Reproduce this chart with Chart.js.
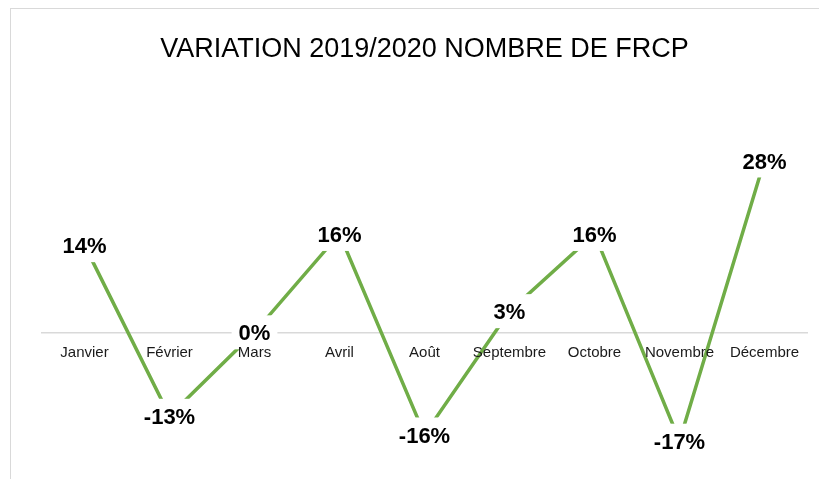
<!DOCTYPE html>
<html>
<head>
<meta charset="utf-8">
<script src="https://cdn.jsdelivr.net/npm/chart.js@4"></script>
<style>
  html, body { margin: 0; padding: 0; background: #fff; }
  #wrap { position: relative; width: 819px; height: 479px; overflow: hidden; }
  #frame { position: absolute; left: 10px; top: 8px; width: 900px; height: 900px; border: 1px solid #d9d9d9; }
  #chart { position: absolute; left: 0; top: 0; }
</style>
</head>
<body>
<div id="wrap">
  <div id="frame"></div>
  <canvas id="chart" width="819" height="479"></canvas>
</div>
<script>
const months = ['Janvier', 'Février', 'Mars', 'Avril', 'Août', 'Septembre', 'Octobre', 'Novembre', 'Décembre'];
// Variation in percent (labels are rounded).
const variation = [14, -13.4, 0, 15.8, -16.4, 3.4, 15.8, -17.4, 27.6];

// Excel-style data labels: centred on the point, white box that cuts the line.
const pointLabels = {
  id: 'pointLabels',
  afterDatasetsDraw(chart) {
    const ctx = chart.ctx;
    const meta = chart.getDatasetMeta(0);
    ctx.save();
    ctx.font = 'bold 22px "Liberation Sans", Arial, sans-serif';
    ctx.textAlign = 'center';
    ctx.textBaseline = 'middle';
    meta.data.forEach((pt, i) => {
      const txt = Math.round(variation[i]) + '%';
      const w = ctx.measureText(txt).width;
      ctx.fillStyle = '#fff';
      ctx.fillRect(pt.x - w / 2 - 7, pt.y - 17, w + 14, 34);
      ctx.fillStyle = '#000';
      ctx.fillText(txt, pt.x, pt.y + 2);
    });
    ctx.restore();
  }
};

new Chart(document.getElementById('chart'), {
  type: 'line',
  data: {
    labels: months,
    datasets: [{
      data: variation,
      borderColor: '#70ad47',
      borderWidth: 3.5,
      pointRadius: 0,
      tension: 0,
      fill: false
    }]
  },
  options: {
    responsive: false,
    animation: false,
    layout: { padding: { left: 42, right: 12, top: 0, bottom: 19 } },
    plugins: {
      legend: { display: false },
      tooltip: { enabled: false },
      title: {
        display: true,
        text: 'VARIATION 2019/2020 NOMBRE DE FRCP',
        color: '#000',
        font: { family: '"Liberation Sans", Arial, sans-serif', size: 27, weight: 'normal' },
        padding: { top: 33, bottom: 77 }
      }
    },
    scales: {
      x: {
        position: { y: 0 },
        offset: true,
        grid: { display: false },
        border: { display: true, color: '#d9d9d9', width: 1.5 },
        ticks: {
          z: 1,
          color: '#1a1a1a',
          padding: 4,
          maxRotation: 0,
          autoSkip: false,
          font: { family: '"Liberation Sans", Arial, sans-serif', size: 15 }
        }
      },
      y: {
        display: false,
        min: -20.5,
        max: 30.5
      }
    }
  },
  plugins: [pointLabels]
});
</script>
</body>
</html>
